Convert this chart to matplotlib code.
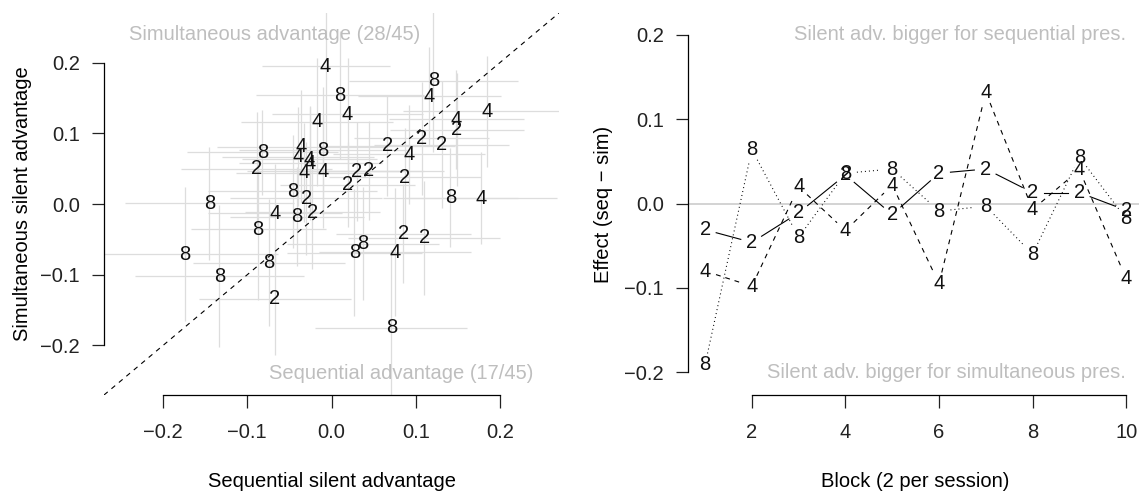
import numpy as np
import matplotlib
matplotlib.use('Agg')
import matplotlib.pyplot as plt

plt.rcParams['font.family'] = ['Liberation Sans', 'DejaVu Sans']
plt.rcParams['font.size'] = 14.5
plt.rcParams['lines.scale_dashes'] = False

# ---- left panel: per subject silent advantage (seq vs sim), label = set size ----
set_size = ['4'] * 16 + ['8'] * 15 + ['2'] * 14
seq_adv = [-0.007, 0.019, -0.017, 0.116, 0.185, 0.148, 0.092, 0.178,
           -0.036, -0.040, -0.026, -0.025, -0.033, -0.010, -0.067, 0.075,
           0.010, 0.121, 0.141, -0.082, -0.010, -0.046, -0.145, -0.041,
           -0.087, -0.174, -0.074, -0.133, 0.027, 0.037, 0.071,
           -0.089, 0.066, 0.107, 0.131, 0.030, 0.044, 0.019, 0.087,
           -0.030, -0.023, -0.067, 0.085, 0.110, 0.149]
sim_adv = [0.195, 0.127, 0.116, 0.152, 0.131, 0.120, 0.070, 0.008,
           0.081, 0.067, 0.063, 0.0575, 0.044, 0.046, -0.013, -0.068,
           0.154, 0.174, 0.009, 0.073, 0.076, 0.018, 0.001, -0.018,
           -0.036, -0.071, -0.083, -0.102, -0.069, -0.056, -0.175,
           0.050, 0.082, 0.093, 0.084, 0.046, 0.047, 0.027, 0.038,
           0.008, -0.012, -0.134, -0.042, -0.048, 0.105]
# half widths of the intervals
seq_err = [0.076, 0.09, 0.09, 0.085, 0.10, 0.08, 0.09, 0.09,
           0.10, 0.09, 0.08, 0.085, 0.08, 0.09, 0.08, 0.09,
           0.10, 0.10, 0.08, 0.09, 0.10, 0.10, 0.10, 0.08,
           0.08, 0.11, 0.09, 0.10, 0.08, 0.09, 0.09,
           0.09, 0.08, 0.08, 0.08, 0.08, 0.09, 0.08, 0.09,
           0.09, 0.08, 0.09, 0.08, 0.09, 0.08]
sim_err = [0.11, 0.08, 0.09, 0.07, 0.078, 0.07, 0.07, 0.065,
           0.08, 0.07, 0.075, 0.08, 0.07, 0.08, 0.07, 0.09,
           0.09, 0.10, 0.07, 0.06, 0.09, 0.08, 0.08, 0.07,
           0.10, 0.095, 0.09, 0.10, 0.09, 0.08, 0.11,
           0.08, 0.07, 0.08, 0.09, 0.07, 0.07, 0.06, 0.07,
           0.08, 0.08, 0.08, 0.07, 0.08, 0.08]

# ---- right panel: effect per block ----
blocks = [1, 2, 3, 4, 5, 6, 7, 8, 9, 10]
eff2 = [-0.031, -0.046, -0.011, 0.034, -0.013, 0.036, 0.041, 0.013, 0.013, -0.008]
eff4 = [-0.080, -0.098, 0.020, -0.032, 0.022, -0.095, 0.132, -0.007, 0.040, -0.089]
eff8 = [-0.191, 0.064, -0.040, 0.036, 0.041, -0.009, -0.003, -0.060, 0.055, -0.018]

ticks_adv = [-0.2, -0.1, 0.0, 0.1, 0.2]
tick_txt = ['\u22120.2', '\u22120.1', '0.0', '0.1', '0.2']
block_ticks = [2, 4, 6, 8, 10]

W, H = 1139, 494
fig = plt.figure(figsize=(W / 100, H / 100), dpi=100)


def box(x0, y0, x1, y1):
    # pixel box (y from top) -> figure fraction
    return [x0 / W, 1 - y1 / H, (x1 - x0) / W, (y1 - y0) / H]


def r_axes(ax):
    for s in ['top', 'right']:
        ax.spines[s].set_visible(False)
    for s in ['left', 'bottom']:
        ax.spines[s].set_linewidth(0.9)
    ax.tick_params(axis='both', length=9, width=0.9, colors='#222222')
    ax.tick_params(axis='x', pad=11)
    ax.tick_params(axis='y', pad=8.5)


gray_txt = '#BEBEBE'

# left
ax1 = fig.add_axes(box(104, 13, 559, 395))
ax1.set_xlim(-0.27, 0.27)
ax1.set_ylim(-0.27, 0.27)
r_axes(ax1)
x = np.array(seq_adv)
y = np.array(sim_adv)
ax1.hlines(y, x - np.array(seq_err), x + np.array(seq_err), color='#DDDDDD', lw=0.9)
ax1.vlines(x, y - np.array(sim_err), y + np.array(sim_err), color='#DDDDDD', lw=0.9)
ax1.plot([-0.27, 0.27], [-0.27, 0.27], color='black', lw=0.8, dashes=(3.5, 3.5))
for xi, yi, s in zip(seq_adv, sim_adv, set_size):
    ax1.text(xi, yi, s, ha='center', va='center', color='#111111')
ax1.text(-0.24, 0.24, 'Simultaneous advantage (28/45)', ha='left', va='center', color=gray_txt)
ax1.text(0.24, -0.24, 'Sequential advantage (17/45)', ha='right', va='center', color=gray_txt)
ax1.set_xticks(ticks_adv)
ax1.set_xticklabels(tick_txt)
ax1.set_yticks(ticks_adv)
ax1.set_yticklabels(tick_txt)
ax1.spines['left'].set_bounds(-0.2, 0.2)
ax1.spines['bottom'].set_bounds(-0.2, 0.2)
ax1.text(0.5, -0.227, 'Sequential silent advantage', transform=ax1.transAxes,
         ha='center', va='center')
ax1.text(-0.18, 0.5, 'Simultaneous silent advantage', transform=ax1.transAxes,
         ha='center', va='center', rotation=90)

# right
ax2 = fig.add_axes(box(688, 13, 1143, 395))
ax2.set_xlim(0.635, 10.36)
ax2.set_ylim(-0.227, 0.226)
r_axes(ax2)
ax2.axhline(0, color='#CCCCCC', lw=1.2, zorder=0)


def gapped(ax, xs, ys, gap, **kw):
    # like R type="b": segments stop short of each point
    pts = ax.transData.transform(np.column_stack([xs, ys]))
    inv = ax.transData.inverted()
    for p, q in zip(pts[:-1], pts[1:]):
        d = q - p
        n = np.hypot(d[0], d[1])
        if n <= 2 * gap:
            continue
        u = d / n
        seg = inv.transform(np.array([p + u * gap, q - u * gap]))
        ax.plot(seg[:, 0], seg[:, 1], color='black', lw=0.8, **kw)


gapped(ax2, blocks, eff2, 11.5)
gapped(ax2, blocks, eff4, 11.5, dashes=(3.5, 3.5))
gapped(ax2, blocks, eff8, 11.5, dashes=(0.7, 2.2))
for vals, s in [(eff2, '2'), (eff4, '4'), (eff8, '8')]:
    for b, v in zip(blocks, vals):
        ax2.text(b, v, s, ha='center', va='center', color='#111111')

ax2.text(10, 0.2, 'Silent adv. bigger for sequential pres.', ha='right', va='center', color=gray_txt)
ax2.text(10, -0.2, 'Silent adv. bigger for simultaneous pres.', ha='right', va='center', color=gray_txt)
ax2.set_xticks(block_ticks)
ax2.set_xticklabels([str(b) for b in block_ticks])
ax2.set_yticks(ticks_adv)
ax2.set_yticklabels(tick_txt)
ax2.spines['left'].set_bounds(-0.2, 0.2)
ax2.spines['bottom'].set_bounds(2, 10)
ax2.text(0.5, -0.227, 'Block (2 per session)', transform=ax2.transAxes,
         ha='center', va='center')
ax2.text(-0.185, 0.5, 'Effect (seq \u2212 sim)', transform=ax2.transAxes,
         ha='center', va='center', rotation=90)

fig.savefig('out.png', dpi=100)
